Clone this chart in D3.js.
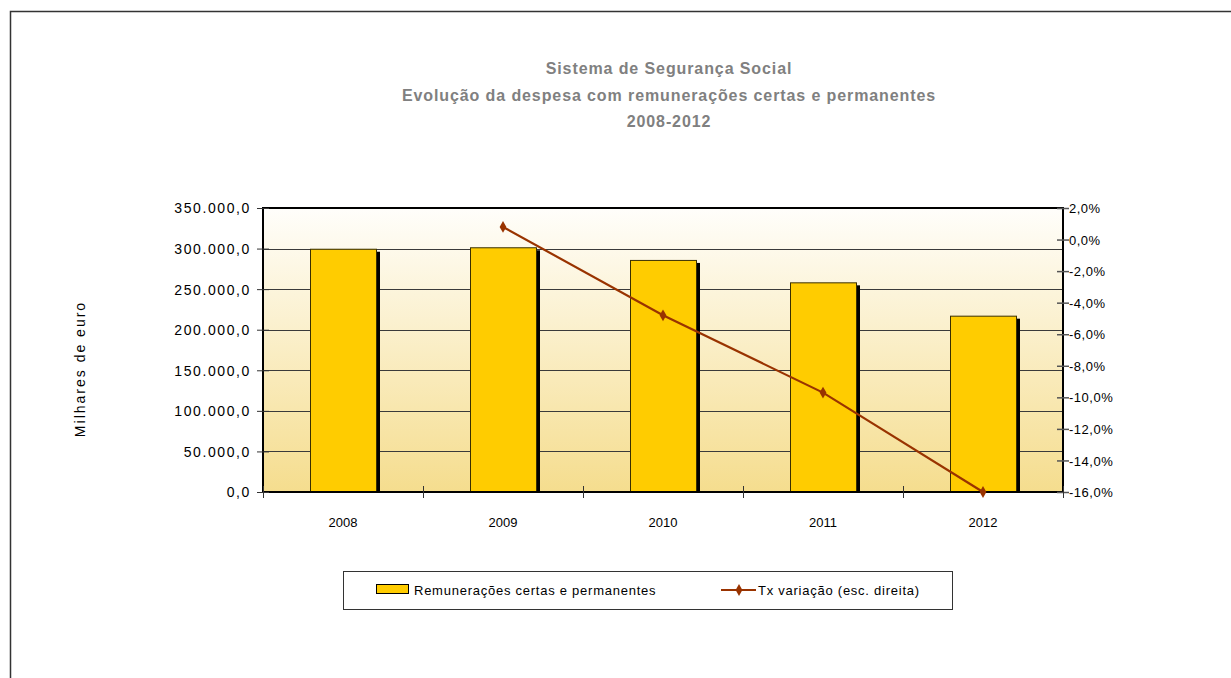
<!DOCTYPE html>
<html>
<head>
<meta charset="utf-8">
<script src="https://cdn.jsdelivr.net/npm/d3@7"></script>
<style>
  html, body { margin: 0; padding: 0; background: #fff; }
  svg { display: block; }
  text { font-family: "Liberation Sans", Arial, sans-serif; }
</style>
</head>
<body>
<svg id="chart" width="1231" height="678"></svg>
<script>
// ---- data ----
const years = ["2008", "2009", "2010", "2011", "2012"];
const remuneracoes = [299800, 301600, 286000, 258400, 217300];
const txVariacao = [null, 0.8, -4.8, -9.7, -16.0];
const leftTicks = [0, 50000, 100000, 150000, 200000, 250000, 300000, 350000];
const rightTicks = [2, 0, -2, -4, -6, -8, -10, -12, -14, -16];
const titleLines = ["Sistema de Segurança Social", "Evolução da despesa com remunerações certas e permanentes", "2008-2012"];
const seriesNames = ["Remunerações certas e permanentes", "Tx variação (esc. direita)"];
const yAxisTitle = "Milhares de euro";

const svg = d3.select("#chart");
const m = { left: 263, right: 1063, top: 208, bottom: 492 };

// outer frame (extends beyond the view on right/bottom)
svg.append("path")
  .attr("d", "M10.5,690 L10.5,11.5 L1240,11.5")
  .attr("fill", "none").attr("stroke", "#333").attr("stroke-width", 1.5);

// gradient
const defs = svg.append("defs");
const grad = defs.append("linearGradient").attr("id", "bg").attr("x1", 0).attr("y1", 0).attr("x2", 0).attr("y2", 1);
grad.append("stop").attr("offset", "0%").attr("stop-color", "#fffefb");
grad.append("stop").attr("offset", "100%").attr("stop-color", "#f5dd8e");

const x = d3.scaleBand().domain(years).range([m.left, m.right]).paddingInner(0).paddingOuter(0);
const yL = d3.scaleLinear().domain([0, 350000]).range([m.bottom, m.top]);
const yR = d3.scaleLinear().domain([-16, 2]).range([m.bottom, m.top]);

svg.append("rect").attr("x", m.left).attr("y", m.top)
  .attr("width", m.right - m.left).attr("height", m.bottom - m.top)
  .attr("fill", "url(#bg)");

// gridlines
svg.append("g").selectAll("line").data(leftTicks.filter(t => t > 0 && t < 350000)).join("line")
  .attr("x1", m.left).attr("x2", m.right)
  .attr("y1", d => Math.round(yL(d)) + 0.5).attr("y2", d => Math.round(yL(d)) + 0.5)
  .attr("stroke", "#3a3a3a").attr("stroke-width", 1);

// bars
const barW = 66;
const bars = svg.append("g");
bars.selectAll("rect.sh").data(years).join("rect").attr("class", "sh")
  .attr("x", (d, i) => x(d) + x.bandwidth() / 2 - barW / 2 + 4)
  .attr("y", (d, i) => yL(remuneracoes[i]) + 3)
  .attr("width", barW)
  .attr("height", (d, i) => m.bottom - yL(remuneracoes[i]) - 3)
  .attr("fill", "#000");
bars.selectAll("rect.b").data(years).join("rect").attr("class", "b")
  .attr("x", (d, i) => x(d) + x.bandwidth() / 2 - barW / 2 + 0.5)
  .attr("y", (d, i) => yL(remuneracoes[i]) + 0.5)
  .attr("width", barW)
  .attr("height", (d, i) => m.bottom - yL(remuneracoes[i]))
  .attr("fill", "#ffcc00").attr("stroke", "#3a3000").attr("stroke-width", 1);

// plot frame
svg.append("rect").attr("x", m.left).attr("y", m.top)
  .attr("width", m.right - m.left).attr("height", m.bottom - m.top)
  .attr("fill", "none").attr("stroke", "#000").attr("stroke-width", 2);

// left axis
const axL = d3.axisLeft(yL).tickValues(leftTicks).tickSize(8).tickPadding(4)
  .tickFormat(d => d3.format(",.1f")(d).replace(/,/g, "#").replace(/\./g, ",").replace(/#/g, "."));
const gL = svg.append("g").attr("transform", `translate(${m.left},0)`).call(axL);
gL.select(".domain").remove();
gL.selectAll(".tick line").attr("x1", 6).attr("x2", -6).attr("stroke", "#333");
gL.selectAll("text").attr("font-size", 14).attr("letter-spacing", "1.6px").attr("fill", "#000")
  .attr("dy", "0.35em").attr("x", -12);

// right axis
const axR = d3.axisRight(yR).tickValues(rightTicks).tickSize(8).tickPadding(4)
  .tickFormat(d => d3.format(".1f")(d).replace("−", "-").replace(".", ",") + "%");
const gR = svg.append("g").attr("transform", `translate(${m.right},0)`).call(axR);
gR.select(".domain").remove();
gR.selectAll(".tick line").attr("x1", -6).attr("x2", 6).attr("stroke", "#555").attr("stroke-width", 1.5);
gR.selectAll("text").attr("font-size", 13).attr("letter-spacing", "0.5px").attr("fill", "#000")
  .attr("dy", "0.35em").attr("x", 6);

// bottom axis: ticks at category boundaries
const bounds = years.map(y => x(y)).concat([m.right]);
svg.append("g").selectAll("line").data(bounds).join("line")
  .attr("x1", d => d + 0.5).attr("x2", d => d + 0.5)
  .attr("y1", m.bottom - 6).attr("y2", m.bottom + 6)
  .attr("stroke", "#333");
svg.append("g").selectAll("text").data(years).join("text")
  .attr("x", d => x(d) + x.bandwidth() / 2).attr("y", 527)
  .attr("text-anchor", "middle").attr("font-size", 13).attr("fill", "#000")
  .text(d => d);

// line series
const lineData = years.map((y, i) => ({ y, v: txVariacao[i] })).filter(d => d.v !== null);
const line = d3.line().x(d => x(d.y) + x.bandwidth() / 2).y(d => yR(d.v));
svg.append("path").datum(lineData).attr("d", line)
  .attr("fill", "none").attr("stroke", "#993300").attr("stroke-width", 2.2);
const diamond = d3.symbol().type(d3.symbolDiamond).size(40);
svg.append("g").selectAll("path").data(lineData).join("path")
  .attr("transform", d => `translate(${x(d.y) + x.bandwidth() / 2},${yR(d.v)})`)
  .attr("d", diamond).attr("fill", "#993300");

// titles
svg.append("g").selectAll("text").data(titleLines).join("text")
  .attr("x", 669).attr("y", (d, i) => 74 + i * 26.5)
  .attr("text-anchor", "middle").attr("font-size", 16).attr("font-weight", "bold")
  .attr("letter-spacing", "0.9px")
  .attr("fill", "#808080").text(d => d);

// y axis title
svg.append("text").attr("transform", "translate(85,369) rotate(-90)")
  .attr("text-anchor", "middle").attr("font-size", 14).attr("letter-spacing", "2px")
  .attr("fill", "#000").text(yAxisTitle);

// legend
const lg = svg.append("g");
lg.append("rect").attr("x", 343.5).attr("y", 571.5).attr("width", 609).attr("height", 38)
  .attr("fill", "#fff").attr("stroke", "#333").attr("stroke-width", 1);
lg.append("rect").attr("x", 376.5).attr("y", 584.5).attr("width", 32).attr("height", 9)
  .attr("fill", "#ffcc00").attr("stroke", "#000").attr("stroke-width", 1);
lg.append("text").attr("x", 414).attr("y", 594.5).attr("font-size", 13).attr("letter-spacing", "0.75px")
  .attr("fill", "#000").text(seriesNames[0]);
lg.append("line").attr("x1", 721).attr("x2", 756).attr("y1", 590).attr("y2", 590)
  .attr("stroke", "#993300").attr("stroke-width", 2.2);
lg.append("path").attr("transform", "translate(739,590)").attr("d", diamond).attr("fill", "#993300");
lg.append("text").attr("x", 758).attr("y", 594.5).attr("font-size", 13).attr("letter-spacing", "0.75px")
  .attr("fill", "#000").text(seriesNames[1]);
</script>
</body>
</html>
